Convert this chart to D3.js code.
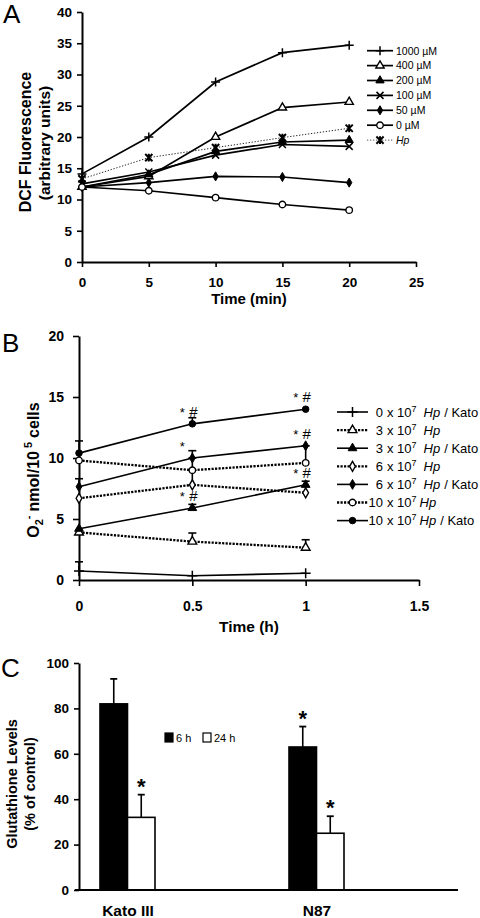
<!DOCTYPE html>
<html><head><meta charset="utf-8">
<script src="https://cdn.jsdelivr.net/npm/d3@7"></script>
<style>
body{margin:0;background:#fff}
svg{display:block}
text{font-family:"Liberation Sans",Arial,Helvetica,sans-serif;fill:#000}
</style>
</head><body>
<svg id="chart" width="480" height="918"></svg>
<script>
// ================= DATA =================
// Panel A : DCF fluorescence vs time
const timeA = [0, 5, 10, 15, 20];
const seriesA = ["1000 µM", "400 µM", "200 µM", "100 µM", "50 µM", "0 µM", "Hp"];
const dcf1000 = [14.1, 20.0, 28.8, 33.5, 34.7];
const dcf400  = [12.0, 13.7, 20.0, 24.7, 25.6];
const dcf200  = [12.0, 14.0, 17.7, 19.2, 19.5];
const dcf100  = [12.5, 14.4, 17.1, 18.8, 18.5];
const dcf50   = [12.0, 12.7, 13.7, 13.6, 12.7];
const dcf0    = [12.0, 11.4, 10.3, 9.2, 8.3];
const dcfHp   = [13.3, 16.7, 18.3, 19.9, 21.4];
const ticksAx = [0, 5, 10, 15, 20, 25];
const ticksAy = [0, 5, 10, 15, 20, 25, 30, 35, 40];

// Panel B : superoxide vs time
const timeB = [0, 0.5, 1];
const seriesBdose = ["0", "3", "3", "6", "6", "10", "10"];
const seriesBkato = [true, false, true, false, true, false, true];
const o2Kato0  = [0.74, 0.35, 0.55];
const o2Hp3    = [3.9, 3.15, 2.65];
const o2Kato3  = [4.2, 5.9, 7.8];
const o2Hp6    = [6.7, 7.8, 7.15];
const o2Kato6  = [7.65, 10.0, 11.0];
const o2Hp10   = [9.8, 9.0, 9.6];
const o2Kato10 = [10.4, 12.8, 14.0];
const errKato0  = [0.75, 0, 0];
const errHp3    = [0, 0.7, 0.65];
const errKato3  = [0, 0.3, 0.3];
const errHp6    = [0, 1.2, 0];
const errKato6  = [0.65, 0.6, 0];
const errHp10   = [0, 1.0, 1.4];
const errKato10 = [1.0, 0.5, 0];
// significance marks: [series index, time, star, hash]
const signifB = [
  [6, 0.5, "*", "#"], [4, 0.5, "*", ""], [2, 0.5, "*", "#"],
  [6, 1, "*", "#"], [4, 1, "*", "#"], [2, 1, "*", "#"]
];
const ticksBx = [0, 0.5, 1, 1.5];
const ticksBy = [0, 5, 10, 15, 20];

// Panel C : glutathione levels
const cellLines = ["Kato III", "N87"];
const timesC = ["6 h", "24 h"];
const gsh6h  = [82, 63];
const gsh24h = [32, 25];
const err6h  = [11, 9];
const err24h = [10, 7.5];
const sig6h  = [false, true];
const sig24h = [true, true];
const ticksCy = [0, 20, 40, 60, 80, 100];

// ================= DRAWING =================
const svg = d3.select("#chart");

function markerPath(shape, s) {
  switch (shape) {
    case "plus": return `M${-s},0H${s}M0,${-s}V${s}`;
    case "cross": return `M${-s},${-s}L${s},${s}M${-s},${s}L${s},${-s}`;
    case "asterisk": return `M${-s},${-s}L${s},${s}M${-s},${s}L${s},${-s}M0,${-s*1.1}V${s*1.1}`;
    case "triangle": return d3.symbol(d3.symbolTriangle, s * s * 2.3)();
    case "diamond": return d3.symbol(d3.symbolDiamond, s * s * 2.2)();
    case "circle": return d3.symbol(d3.symbolCircle, s * s * 2.9)();
  }
}
function drawMarker(g, shape, fill, s, x, y) {
  const p = g.append("path").attr("d", markerPath(shape, s))
    .attr("transform", `translate(${x},${y})`);
  if (shape === "plus" || shape === "cross" || shape === "asterisk") {
    p.attr("fill", "none").attr("stroke", "#000").attr("stroke-width", shape === "asterisk" ? 2 : 1.5);
  } else if (fill) {
    p.attr("fill", "#000").attr("stroke", "#000").attr("stroke-width", 1);
  } else {
    p.attr("fill", "#fff").attr("stroke", "#000").attr("stroke-width", 1.4);
  }
}
function styleAxis(g, fs) {
  g.select(".domain").attr("stroke", "#000").attr("stroke-width", 2);
  g.selectAll(".tick line").attr("stroke", "#000").attr("stroke-width", 1.6);
  g.selectAll(".tick text").attr("font-size", fs).attr("font-weight", "bold")
    .attr("font-family", '"Liberation Sans",Arial,sans-serif').attr("fill", "#000");
}

// ---------- Panel A ----------
{
  const x = d3.scaleLinear().domain([0, 25]).range([82, 416]);
  const y = d3.scaleLinear().domain([0, 40]).range([262, 12]);
  const g = svg.append("g");
  const valuesA = [dcf1000, dcf400, dcf200, dcf100, dcf50, dcf0, dcfHp];
  const shapes = [["plus", 0], ["triangle", 0], ["triangle", 1], ["cross", 0], ["diamond", 1], ["circle", 0], ["asterisk", 0]];
  const sizes = [4.5, 3.6, 3.6, 3.5, 3.3, 3.4, 3.6];

  const gx = g.append("g").attr("transform", `translate(0,${y(0)})`)
    .call(d3.axisBottom(x).tickValues(ticksAx).tickSize(5).tickSizeOuter(0).tickPadding(10).tickFormat(d3.format("d")));
  styleAxis(gx, 13.5);
  const gy = g.append("g").attr("transform", `translate(${x(0)},0)`)
    .call(d3.axisLeft(y).tickValues(ticksAy).tickSize(5).tickSizeOuter(0).tickPadding(5).tickFormat(d3.format("d")));
  styleAxis(gy, 13.5);

  const line = d3.line().x((d, i) => x(timeA[i])).y(d => y(d));
  valuesA.forEach((vals, k) => {
    const isHp = k === 6;
    g.append("path").attr("d", line(vals)).attr("fill", "none")
      .attr("stroke", isHp ? "#222" : "#000")
      .attr("stroke-width", isHp ? 1 : 1.7)
      .attr("stroke-dasharray", isHp ? "1.3,1.7" : null);
  });
  valuesA.forEach((vals, k) => {
    vals.forEach((v, i) => drawMarker(g, shapes[k][0], shapes[k][1], sizes[k], x(timeA[i]), y(v)));
  });

  // legend
  const lg = g.append("g");
  seriesA.forEach((name, k) => {
    const ly = 50.7 + k * 14.9;
    const isHp = k === 6;
    lg.append("line").attr("x1", 367).attr("x2", 393).attr("y1", ly).attr("y2", ly)
      .attr("stroke", isHp ? "#555" : "#000").attr("stroke-width", isHp ? 1 : 1.7)
      .attr("stroke-dasharray", isHp ? "1.3,1.7" : null);
    drawMarker(lg, shapes[k][0], shapes[k][1], sizes[k], 380, ly);
    lg.append("text").attr("x", 396).attr("y", ly + 3.8).attr("font-size", 10.5)
      .attr("font-style", isHp ? "italic" : null).text(name);
  });

  g.append("text").attr("x", x(12.5)).attr("y", 304).attr("text-anchor", "middle")
    .attr("font-size", 15).attr("font-weight", "bold").text("Time (min)");
  g.append("text").attr("transform", "translate(31,142) rotate(-90)").attr("text-anchor", "middle")
    .attr("font-size", 16).attr("font-weight", "bold").text("DCF Fluorescence");
  g.append("text").attr("transform", "translate(50,143) rotate(-90)").attr("text-anchor", "middle")
    .attr("font-size", 15.5).attr("font-weight", "bold").text("(arbitrary units)");
  g.append("text").attr("x", 3).attr("y", 23).attr("font-size", 26).text("A");
}

// ---------- Panel B ----------
{
  const x = d3.scaleLinear().domain([0, 1.5]).range([79, 419]);
  const y = d3.scaleLinear().domain([0, 20]).range([580, 336]);
  const g = svg.append("g");
  const valuesB = [o2Kato0, o2Hp3, o2Kato3, o2Hp6, o2Kato6, o2Hp10, o2Kato10];
  const errsB = [errKato0, errHp3, errKato3, errHp6, errKato6, errHp10, errKato10];
  const shapes = [["plus", 0], ["triangle", 0], ["triangle", 1], ["diamond", 0], ["diamond", 1], ["circle", 0], ["circle", 1]];
  const sizes = [5, 3.8, 3.8, 3.6, 3.6, 3.4, 3.4];

  const gx = g.append("g").attr("transform", `translate(0,${y(0)})`)
    .call(d3.axisBottom(x).tickValues(ticksBx).tickSize(6).tickSizeOuter(0).tickPadding(15).tickFormat(d => d));
  styleAxis(gx, 14);
  const gy = g.append("g").attr("transform", `translate(${x(0)},0)`)
    .call(d3.axisLeft(y).tickValues(ticksBy).tickSize(6).tickSizeOuter(0).tickPadding(9).tickFormat(d3.format("d")));
  styleAxis(gy, 14);

  const line = d3.line().x((d, i) => x(timeB[i])).y(d => y(d));
  valuesB.forEach((vals, k) => {
    const dotted = !seriesBkato[k];
    g.append("path").attr("d", line(vals)).attr("fill", "none").attr("stroke", "#000")
      .attr("stroke-width", dotted ? 2.3 : 1.6)
      .attr("stroke-dasharray", dotted ? "2.2,1.3" : null);
  });
  // error bars
  valuesB.forEach((vals, k) => {
    vals.forEach((v, i) => {
      const e = errsB[k][i];
      if (!e) return;
      const cx = x(timeB[i]);
      g.append("line").attr("x1", cx).attr("x2", cx).attr("y1", y(v)).attr("y2", y(v + e))
        .attr("stroke", "#000").attr("stroke-width", 1.6);
      g.append("line").attr("x1", cx - 4).attr("x2", cx + 4).attr("y1", y(v + e)).attr("y2", y(v + e))
        .attr("stroke", "#000").attr("stroke-width", 1.6);
    });
  });
  valuesB.forEach((vals, k) => {
    vals.forEach((v, i) => drawMarker(g, shapes[k][0], shapes[k][1], sizes[k], x(timeB[i]), y(v)));
  });
  // significance
  signifB.forEach(([k, t, st, hs]) => {
    const i = timeB.indexOf(t);
    const py = y(valuesB[k][i]) - 7;
    const cx = x(t);
    if (st) g.append("text").attr("x", cx - 10).attr("y", py).attr("text-anchor", "middle").attr("font-size", 13).text(st);
    if (hs) g.append("text").attr("x", cx + 1).attr("y", py).attr("text-anchor", "middle").attr("font-size", 15).text(hs);
  });

  // legend
  const lg = g.append("g");
  seriesBdose.forEach((dose, k) => {
    const ly = 412 + k * 18.1;
    const dotted = !seriesBkato[k];
    lg.append("line").attr("x1", 337).attr("x2", 368).attr("y1", ly).attr("y2", ly)
      .attr("stroke", "#000").attr("stroke-width", dotted ? 2.3 : 1.6)
      .attr("stroke-dasharray", dotted ? "2.2,1.3" : null);
    drawMarker(lg, shapes[k][0], shapes[k][1], sizes[k], 352.5, ly);
    lg.append("text").attr("x", 383).attr("y", ly + 4.5).attr("text-anchor", "end")
      .attr("font-size", 13).text(dose);
    const t = lg.append("text").attr("x", 383).attr("y", ly + 4.5).attr("font-size", 13);
    t.append("tspan").attr("dx", 4).text("x 10");
    t.append("tspan").attr("font-size", 9).attr("dy", -5).text("7");
    t.append("tspan").attr("dy", 5).attr("dx", dose === "10" ? 3 : 7).attr("font-style", "italic").text("Hp");
    if (seriesBkato[k]) t.append("tspan").attr("dx", 4).text("/ Kato");
  });

  g.append("text").attr("x", x(0.75)).attr("y", 632).attr("text-anchor", "middle")
    .attr("font-size", 15.5).attr("font-weight", "bold").text("Time (h)");
  const yl = g.append("text").attr("transform", "translate(39,470) rotate(-90)").attr("text-anchor", "middle")
    .attr("font-size", 16).attr("font-weight", "bold");
  yl.append("tspan").text("O");
  yl.append("tspan").attr("font-size", 11).attr("dy", 4).text("2");
  yl.append("tspan").attr("font-size", 11).attr("dy", -11).text("-");
  yl.append("tspan").attr("dy", 7).attr("dx", 4).text("nmol/10");
  yl.append("tspan").attr("font-size", 11).attr("dy", -7).attr("dx", 3).text("5");
  yl.append("tspan").attr("dy", 7).attr("dx", 4).text("cells");
  g.append("text").attr("x", 2).attr("y", 352).attr("font-size", 26).text("B");
}

// ---------- Panel C ----------
{
  const y = d3.scaleLinear().domain([0, 100]).range([890, 663]);
  const x0 = d3.scaleBand().domain(cellLines).range([33.5, 411.5]);
  const x1 = d3.scaleBand().domain(timesC).range([-28, 27]);
  const g = svg.append("g");

  const gy = g.append("g").attr("transform", "translate(79,0)")
    .call(d3.axisLeft(y).tickValues(ticksCy).tickSize(5).tickSizeOuter(0).tickPadding(5));
  styleAxis(gy, 13.5);
  const gx = g.append("g").attr("transform", `translate(0,${y(0)})`)
    .call(d3.axisBottom(x0).tickSize(0).tickPadding(14.5));
  gx.select(".domain").remove();
  gx.selectAll(".tick text").attr("font-size", 15.5).attr("font-weight", "bold").attr("fill", "#000");

  const vals = [gsh6h, gsh24h];
  const errs = [err6h, err24h];
  const sigs = [sig6h, sig24h];
  timesC.forEach((tm, j) => {
    cellLines.forEach((cl, i) => {
      const bx = x0(cl) + x0.bandwidth() / 2 + x1(tm);
      const bw = x1.bandwidth();
      const v = vals[j][i], e = errs[j][i];
      const cx = bx + bw / 2;
      g.append("line").attr("x1", cx).attr("x2", cx).attr("y1", y(v)).attr("y2", y(v + e))
        .attr("stroke", "#000").attr("stroke-width", 1.6);
      g.append("line").attr("x1", cx - 3.5).attr("x2", cx + 3.5).attr("y1", y(v + e)).attr("y2", y(v + e))
        .attr("stroke", "#000").attr("stroke-width", 1.8);
      g.append("rect").attr("x", bx).attr("y", y(v)).attr("width", bw).attr("height", y(0) - y(v))
        .attr("fill", j === 0 ? "#000" : "#fff").attr("stroke", "#000").attr("stroke-width", 1.6);
      if (sigs[j][i]) g.append("text").attr("x", cx).attr("y", y(v + e) - 1).attr("text-anchor", "middle")
        .attr("font-size", 22).attr("font-weight", "bold").text("*");
    });
  });
  // x axis baseline
  g.append("line").attr("x1", 75).attr("x2", 458).attr("y1", y(0)).attr("y2", y(0))
    .attr("stroke", "#000").attr("stroke-width", 2);

  // legend
  const legX = [165, 203];
  timesC.forEach((tm, j) => {
    g.append("rect").attr("x", legX[j]).attr("y", 733).attr("width", 8).attr("height", 9)
      .attr("fill", j === 0 ? "#000" : "#fff").attr("stroke", "#000").attr("stroke-width", 1.2);
    g.append("text").attr("x", legX[j] + 11).attr("y", 741.5).attr("font-size", 11).text(tm);
  });

  g.append("text").attr("transform", "translate(17,784) rotate(-90)").attr("text-anchor", "middle")
    .attr("font-size", 14.5).attr("font-weight", "bold").text("Glutathione Levels");
  g.append("text").attr("transform", "translate(35,784) rotate(-90)").attr("text-anchor", "middle")
    .attr("font-size", 14.5).attr("font-weight", "bold").text("(% of control)");
  g.append("text").attr("x", 1).attr("y", 677).attr("font-size", 26).text("C");
}
</script>
</body></html>
